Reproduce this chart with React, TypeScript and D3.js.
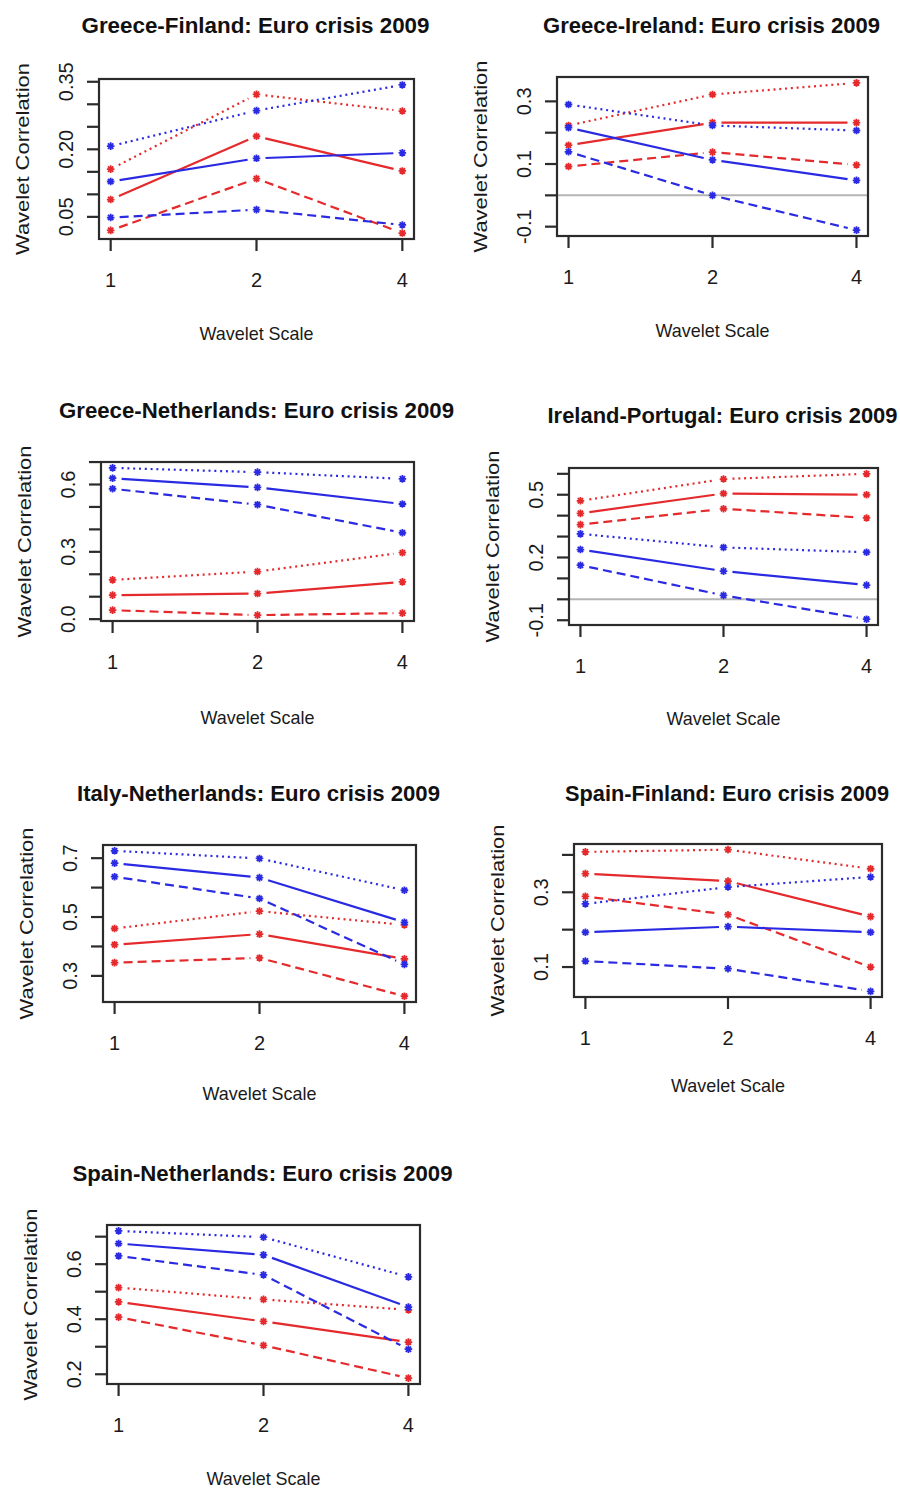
import React from "react";
import * as d3 from "d3";

// ---------- data ----------
const scaleLabels = ["1", "2", "4"];

const panelTitles = [
  "Greece-Finland: Euro crisis 2009",
  "Greece-Ireland: Euro crisis 2009",
  "Greece-Netherlands: Euro crisis 2009",
  "Ireland-Portugal: Euro crisis 2009",
  "Italy-Netherlands: Euro crisis 2009",
  "Spain-Finland: Euro crisis 2009",
  "Spain-Netherlands: Euro crisis 2009",
];

// red series (solid = estimate, dashed = lower, dotted = upper)
const redEstimate = [
  [0.0885, 0.229, 0.152],
  [0.16, 0.232, 0.232],
  [0.107, 0.114, 0.166],
  [0.411, 0.506, 0.5],
  [0.406, 0.442, 0.358],
  [0.35, 0.33, 0.235],
  [0.463, 0.392, 0.317],
];
const redLower = [
  [0.02, 0.135, 0.014],
  [0.092, 0.138, 0.097],
  [0.04, 0.018, 0.027],
  [0.357, 0.433, 0.389],
  [0.345, 0.361, 0.231],
  [0.289, 0.24, 0.1],
  [0.4075, 0.305, 0.186],
];
const redUpper = [
  [0.156, 0.322, 0.285],
  [0.223, 0.322, 0.359],
  [0.175, 0.212, 0.296],
  [0.471, 0.575, 0.6],
  [0.461, 0.52, 0.473],
  [0.408, 0.414, 0.363],
  [0.515, 0.472, 0.434],
];
// blue series
const blueEstimate = [
  [0.1285, 0.18, 0.192],
  [0.216, 0.113, 0.048],
  [0.628, 0.587, 0.513],
  [0.238, 0.135, 0.068],
  [0.683, 0.634, 0.482],
  [0.193, 0.208, 0.193],
  [0.675, 0.634, 0.444],
];
const blueLower = [
  [0.0485, 0.066, 0.032],
  [0.139, 0.0, -0.111],
  [0.581, 0.51, 0.385],
  [0.163, 0.019, -0.095],
  [0.637, 0.563, 0.339],
  [0.116, 0.0955, 0.035],
  [0.63, 0.561, 0.291],
];
const blueUpper = [
  [0.207, 0.286, 0.343],
  [0.29, 0.223, 0.207],
  [0.674, 0.655, 0.625],
  [0.313, 0.248, 0.225],
  [0.725, 0.699, 0.591],
  [0.269, 0.314, 0.341],
  [0.721, 0.698, 0.554],
];

const yTickValues = [
  [0.05, 0.1, 0.15, 0.2, 0.25, 0.3, 0.35],
  [-0.1, 0, 0.1, 0.2, 0.3],
  [0, 0.1, 0.2, 0.3, 0.4, 0.5, 0.6, 0.7],
  [-0.1, 0, 0.1, 0.2, 0.3, 0.4, 0.5, 0.6],
  [0.3, 0.4, 0.5, 0.6, 0.7],
  [0.1, 0.2, 0.3, 0.4],
  [0.2, 0.3, 0.4, 0.5, 0.6, 0.7],
];
const yTickLabels = [
  ["0.05", "", "", "0.20", "", "", "0.35"],
  ["-0.1", "", "0.1", "", "0.3"],
  ["0.0", "", "", "0.3", "", "", "0.6", ""],
  ["-0.1", "", "", "0.2", "", "", "0.5", ""],
  ["0.3", "", "0.5", "", "0.7"],
  ["0.1", "", "0.3", ""],
  ["0.2", "", "0.4", "", "0.6", ""],
];
const zeroLine = [false, true, false, true, false, false, false];

// ---------- layout (positions only) ----------
const layout = [
  { l: 99, r: 414, t: 79, b: 239, ty: 33, tw: 348 },
  { l: 557, r: 868, t: 77, b: 236, ty: 33, tw: 337 },
  { l: 101, r: 414, t: 462, b: 621, ty: 418, tw: 395 },
  { l: 569, r: 878, t: 468, b: 625, ty: 423, tw: 350 },
  { l: 103, r: 416, t: 845, b: 1002, ty: 801, tw: 363 },
  { l: 574, r: 882, t: 844, b: 997, ty: 801, tw: 324 },
  { l: 107, r: 420, t: 1225, b: 1384, ty: 1181, tw: 380 },
];
const xLabelOffset = [94, 94, 96, 93, 91, 88, 94];

const RED = "#e42a2c";
const BLUE = "#2a2ae2";
const AXIS = "#2b2b2b";
const FONT = "'Liberation Sans', Arial, sans-serif";

const GAP = 9;

function starPath(x: number, y: number, r: number) {
  let d = "";
  for (let k = 0; k < 4; k++) {
    const a = (Math.PI / 4) * k;
    const dx = Math.cos(a) * r;
    const dy = Math.sin(a) * r;
    d += `M${x - dx},${y - dy}L${x + dx},${y + dy}`;
  }
  return d;
}

function Panel({ i }: { i: number }) {
  const L = layout[i];
  const series = [
    { v: redUpper[i], c: RED, dash: "2 3.8" },
    { v: redEstimate[i], c: RED, dash: null },
    { v: redLower[i], c: RED, dash: "9 5" },
    { v: blueUpper[i], c: BLUE, dash: "2 3.8" },
    { v: blueEstimate[i], c: BLUE, dash: null },
    { v: blueLower[i], c: BLUE, dash: "9 5" },
  ];
  const all = series.flatMap((s) => s.v);
  const [mn, mx] = d3.extent(all) as [number, number];
  const pad = (mx - mn) * 0.04;
  const y = d3.scaleLinear().domain([mn - pad, mx + pad]).range([L.b, L.t]);
  const x = d3
    .scaleLinear()
    .domain([-0.08, scaleLabels.length - 1 + 0.08])
    .range([L.l, L.r]);
  const line = d3.line<[number, number]>();

  const segs = (vals: number[]) => {
    const out: string[] = [];
    for (let k = 0; k < vals.length - 1; k++) {
      const x0 = x(k), y0 = y(vals[k]);
      const x1 = x(k + 1), y1 = y(vals[k + 1]);
      const len = Math.hypot(x1 - x0, y1 - y0);
      const ux = (x1 - x0) / len, uy = (y1 - y0) / len;
      out.push(
        line([
          [x0 + ux * GAP, y0 + uy * GAP],
          [x1 - ux * GAP, y1 - uy * GAP],
        ]) as string
      );
    }
    return out;
  };

  const cx = (L.l + L.r) / 2;
  const cy = (L.t + L.b) / 2;
  const tickLabX = L.l - 33;

  return (
    <g>
      <text
        x={cx - 1}
        y={L.ty}
        textAnchor="middle"
        fontFamily={FONT}
        fontWeight="bold"
        fontSize={22}
        textLength={L.tw}
        lengthAdjust="spacingAndGlyphs"
        fill="#111"
      >
        {panelTitles[i]}
      </text>
      {zeroLine[i] && (
        <line x1={L.l} x2={L.r} y1={y(0)} y2={y(0)} stroke="#b5b5b5" strokeWidth={2} />
      )}
      {series.map((s, si) => (
        <g key={si}>
          {segs(s.v).map((d, k) => (
            <path
              key={k}
              d={d}
              fill="none"
              stroke={s.c}
              strokeWidth={2.2}
              strokeDasharray={s.dash || undefined}
            />
          ))}
          {s.v.map((v, k) => (
            <path key={"p" + k} d={starPath(x(k), y(v), 3.8)} stroke={s.c} strokeWidth={1.8} />
          ))}
        </g>
      ))}
      <rect
        x={L.l}
        y={L.t}
        width={L.r - L.l}
        height={L.b - L.t}
        fill="none"
        stroke={AXIS}
        strokeWidth={2.2}
      />
      {yTickValues[i].map((tv, k) => (
        <g key={"yt" + k}>
          <line x1={L.l - 12} x2={L.l} y1={y(tv)} y2={y(tv)} stroke={AXIS} strokeWidth={2.2} />
          {yTickLabels[i][k] && (
            <text
              transform={`translate(${tickLabX},${y(tv)}) rotate(-90)`}
              textAnchor="middle"
              dy="0.36em"
              fontFamily={FONT}
              fontSize={20}
              fill="#1a1a1a"
            >
              {yTickLabels[i][k]}
            </text>
          )}
        </g>
      ))}
      {scaleLabels.map((lab, k) => (
        <g key={"xt" + k}>
          <line x1={x(k)} x2={x(k)} y1={L.b} y2={L.b + 12} stroke={AXIS} strokeWidth={2.2} />
          <text
            x={x(k)}
            y={L.b + 41}
            dy="0.36em"
            textAnchor="middle"
            fontFamily={FONT}
            fontSize={20}
            fill="#1a1a1a"
          >
            {lab}
          </text>
        </g>
      ))}
      <text
        x={cx}
        y={L.b + xLabelOffset[i]}
        dy="0.36em"
        textAnchor="middle"
        fontFamily={FONT}
        fontSize={19}
        textLength={114}
        lengthAdjust="spacingAndGlyphs"
        fill="#1a1a1a"
      >
        Wavelet Scale
      </text>
      <text
        transform={`translate(${L.l - 77},${cy}) rotate(-90)`}
        textAnchor="middle"
        dy="0.36em"
        fontFamily={FONT}
        fontSize={19}
        textLength={192}
        lengthAdjust="spacingAndGlyphs"
        fill="#1a1a1a"
      >
        Wavelet Correlation
      </text>
    </g>
  );
}

export default function App() {
  return (
    <svg
      width={900}
      height={1488}
      style={{ position: "absolute", left: 0, top: 0, background: "#fff" }}
    >
      <rect width={900} height={1488} fill="#fff" />
      {panelTitles.map((_, i) => (
        <Panel key={i} i={i} />
      ))}
    </svg>
  );
}
